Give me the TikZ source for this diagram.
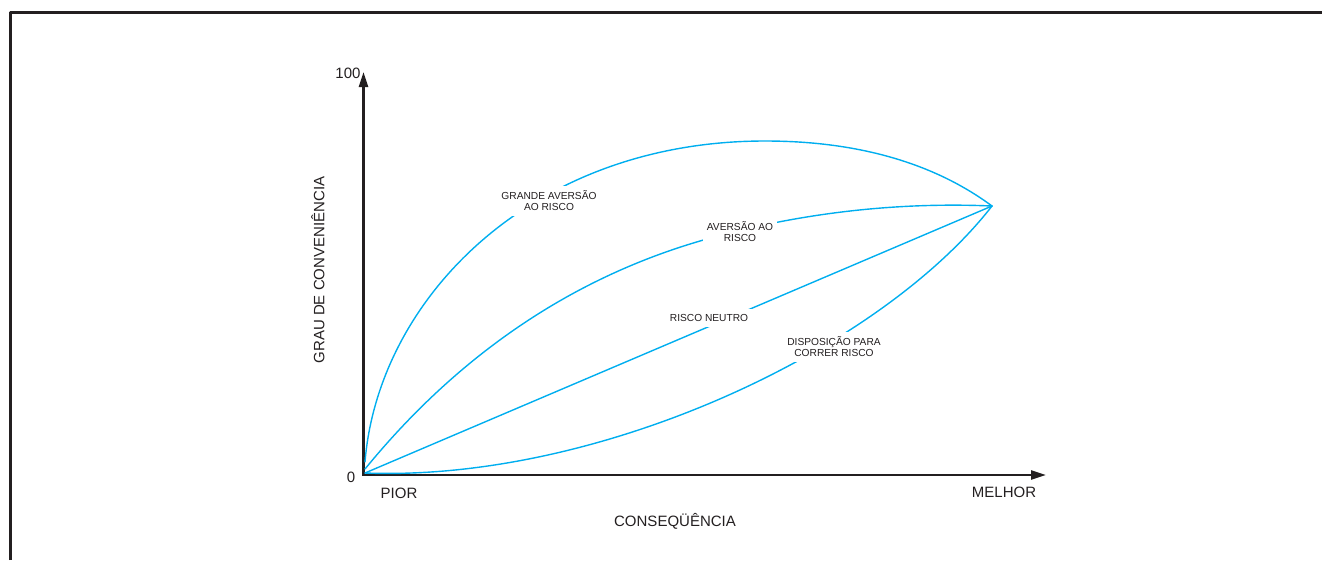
\documentclass[tikz,border=0pt]{standalone}
\usepackage{fontspec}
\setmainfont{Liberation Sans}
\usetikzlibrary{arrows.meta}
\definecolor{inkgray}{RGB}{35,31,32}
\definecolor{curvecyan}{RGB}{0,174,239}

\begin{document}
\begin{tikzpicture}[x=1pt, y=-1pt, line join=round,
    axis/.style={draw=inkgray, line width=2.4pt, line join=miter, {Triangle[length=15pt, width=9pt]}-{Triangle[length=15pt, width=9pt]}},
    curve/.style={draw=curvecyan, line width=1.4pt, line cap=round},
    tag/.style={fill=white, text=inkgray, font=\fontsize{10.2}{11}\selectfont, align=center, inner xsep=4pt, inner ysep=5pt},
    axislabel/.style={text=inkgray, font=\fontsize{15}{17}\selectfont, inner sep=0pt}]
  \useasboundingbox (0,0) rectangle (1322,560);
  % Frame
  \draw [draw=inkgray, line width=2.2pt] (10.5,560) -- (10.5,12.5) -- (1322,12.5);
  % Axes
  \coordinate (origin) at (363.5,475);
  \coordinate (ytip) at (363.5,72);
  \coordinate (xtip) at (1046,475);
  \draw [axis] (ytip) -- (origin) -- (xtip);
  % Axis labels
  \node [axislabel] (top) at (348,73) {100};
  \node [axislabel] (zero) at (351,477) {0};
  \node [axislabel] (worst) at (399,493) {PIOR};
  \node [axislabel] (bestlabel) at (1004,492) {MELHOR};
  \node [axislabel] (xtitle) at (675,521) {CONSEQÜÊNCIA};
  \node [axislabel, rotate=90] (ytitle) at (318,270) {GRAU DE CONVENIÊNCIA};
  % Curves
  \coordinate (best) at (992,206);
  \coordinate (start-1) at (365,462);
  \coordinate (start-2) at (365,469);
  \coordinate (start-3) at (365,473);
  \draw [curve] (start-1) .. controls (378,300) and (530,141) .. (765,141)
                          .. controls (880,141) and (950,175) .. (best);
  \draw [curve] (start-2) .. controls (450,365) and (560,282) .. (700,241)
                          .. controls (800,212) and (900,202) .. (best);
  \draw [curve] (start-3) -- (best);
  \draw [curve] (start-3) .. controls (600,482) and (880,350) .. (best);
  % Curve labels
  \node [tag] (great) at (549,201) {GRANDE AVERSÃO\\AO RISCO};
  \node [tag] (averse) at (740,232) {AVERSÃO AO\\RISCO};
  \node [tag] (neutral) at (709,318) {RISCO NEUTRO};
  \node [tag] (seeking) at (834,347) {DISPOSIÇÃO PARA\\CORRER RISCO};
\end{tikzpicture}
\end{document}
